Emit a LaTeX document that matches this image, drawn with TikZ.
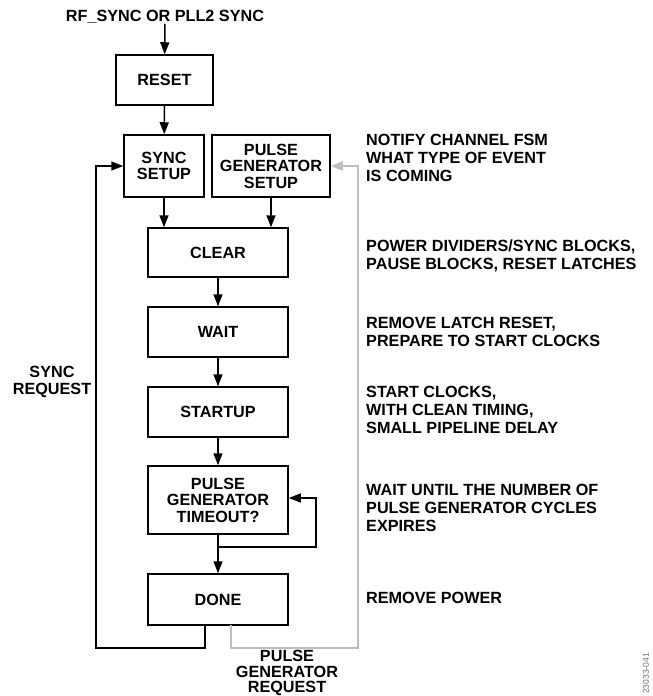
\documentclass[tikz,border=0pt]{standalone}
\usepackage{fontspec}
\setmainfont{Liberation Sans}
\usepackage{tikz}
\usetikzlibrary{arrows.meta, calc}

\tikzset{
  box/.style={draw, line width=1.5pt, align=center, inner sep=0pt,
    font=\bfseries\fontsize{16.2}{16.5}\selectfont},
  lbl/.style={align=center, inner sep=0pt, font=\bfseries\fontsize{16.2}{16.5}\selectfont},
  note/.style={align=left, anchor=west, inner sep=0pt, font=\bfseries\fontsize{16.2}{18}\selectfont},
  flow/.style={line width=1.5pt, -{Triangle[length=12pt,width=9pt]}},
}

\begin{document}
\begin{tikzpicture}[x=1pt,y=-1pt]
\definecolor{c1}{RGB}{190,190,190}
\definecolor{c2}{RGB}{110,110,110}
\useasboundingbox (0,0) rectangle (653,696);

\node[lbl] (rfsync) at (165,17) {RF\_SYNC OR PLL2 SYNC};
\node[box, minimum width=97, minimum height=50] (reset) at (164.5,80) {RESET};
\node[box, minimum width=80, minimum height=62] (syncsetup) at (164,166) {SYNC\\SETUP};
\node[box, minimum width=118, minimum height=62] (pgsetup) at (271,166) {PULSE\\GENERATOR\\SETUP};
\node[box, minimum width=140, minimum height=49] (clear) at (218,252.5) {CLEAR};
\node[box, minimum width=140, minimum height=50] (wait) at (218,332) {WAIT};
\node[box, minimum width=140, minimum height=50] (startup) at (218,412) {STARTUP};
\node[box, minimum width=140, minimum height=68] (timeout) at (218,500) {PULSE\\GENERATOR\\TIMEOUT?};
\node[box, minimum width=140, minimum height=51] (done) at (218,599.5) {DONE};

\node[note] (n1) at (366,158) {NOTIFY CHANNEL FSM\\WHAT TYPE OF EVENT\\IS COMING};
\node[note] (n2) at (366,256) {POWER DIVIDERS/SYNC BLOCKS,\\PAUSE BLOCKS, RESET LATCHES};
\node[note] (n3) at (366,332) {REMOVE LATCH RESET,\\PREPARE TO START CLOCKS};
\node[note] (n4) at (366,410) {START CLOCKS,\\WITH CLEAN TIMING,\\SMALL PIPELINE DELAY};
\node[note] (n5) at (366,508) {WAIT UNTIL THE NUMBER OF\\PULSE GENERATOR CYCLES\\EXPIRES};
\node[note] (n6) at (366,598) {REMOVE POWER};

\node[lbl] (syncreq) at (52,382) {SYNC\\REQUEST};
\node[lbl, font=\bfseries\fontsize{16.2}{15.5}\selectfont] (pgreq) at (287,673) {PULSE\\GENERATOR\\REQUEST};
\node[rotate=90, anchor=west, inner sep=0pt, text=c2, font=\fontsize{8.5}{8.5}\selectfont] (fig) at (646,694) {23033-041};

\coordinate (t1) at (218,547);
\coordinate (t2) at (316,498);
\coordinate (s1) at (205,625);
\coordinate (s2) at (96,648);
\coordinate (p1) at (231,625);
\coordinate (p2) at (358,648);

\draw[flow] (rfsync) -- (reset);
\draw[flow] (reset) -- (syncsetup);
\draw[flow] (syncsetup.south) -- (syncsetup.south |- clear.north);
\draw[flow] (pgsetup.south) -- (pgsetup.south |- clear.north);
\draw[flow] (clear) -- (wait);
\draw[flow] (wait) -- (startup);
\draw[flow] (startup) -- (timeout);
\draw[flow] (timeout) -- (done);
\draw[flow] (t1) -| (t2) -- (t2 -| timeout.east);
\draw[flow, line join=miter] (s1) |- (s2) |- (syncsetup.west);
\draw[flow, color=c1, line width=2pt] (p1) |- (p2) |- (pgsetup.east);
\end{tikzpicture}
\end{document}
